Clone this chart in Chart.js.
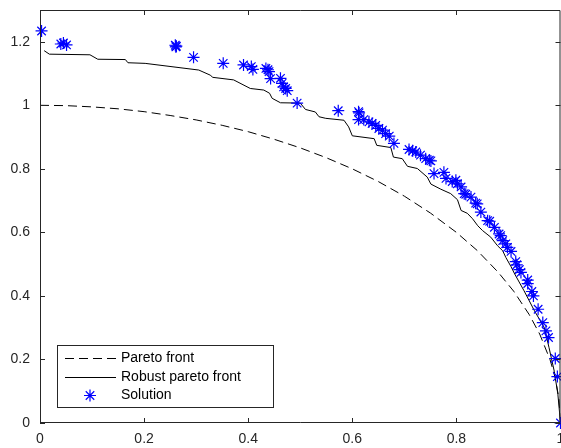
<!DOCTYPE html>
<html>
<head>
<meta charset="utf-8">
<script src="https://cdn.jsdelivr.net/npm/chart.js@4/dist/chart.umd.min.js"></script>
<style>
  body { margin: 0; background: #fff; }
  #wrap { width: 561px; height: 448px; }
</style>
</head>
<body>
<div id="wrap"><canvas id="chart" width="561" height="448"></canvas></div>
<script>
// Pareto front (dashed)
const paretoX = [0, 0.05, 0.1, 0.15, 0.2, 0.25, 0.3, 0.35, 0.4, 0.45, 0.5, 0.55, 0.6, 0.65, 0.7, 0.75, 0.8, 0.84, 0.88, 0.91, 0.94, 0.96, 0.98, 0.99, 0.997, 1];
const paretoY = [1, 0.999, 0.995, 0.989, 0.98, 0.968, 0.954, 0.937, 0.917, 0.893, 0.866, 0.835, 0.8, 0.76, 0.714, 0.661, 0.6, 0.543, 0.475, 0.415, 0.341, 0.28, 0.199, 0.141, 0.077, 0];

// Robust pareto front (solid, stepped)
const robustX = [0.008, 0.018, 0.096, 0.111, 0.164, 0.169, 0.202, 0.305, 0.327, 0.332, 0.372, 0.404, 0.43, 0.441, 0.446, 0.462, 0.5, 0.51, 0.529, 0.536, 0.549, 0.584, 0.593, 0.6, 0.642, 0.647, 0.674, 0.679, 0.696, 0.706, 0.725, 0.744, 0.751, 0.77, 0.789, 0.802, 0.809, 0.821, 0.831, 0.841, 0.85, 0.866, 0.879, 0.889, 0.895, 0.905, 0.912, 0.93, 0.95, 0.969, 0.978, 0.988, 0.995, 1];
const robustY = [1.172, 1.161, 1.159, 1.145, 1.144, 1.134, 1.132, 1.111, 1.095, 1.088, 1.08, 1.053, 1.048, 1.038, 1.022, 1.008, 1.007, 0.987, 0.979, 0.964, 0.959, 0.953, 0.932, 0.904, 0.895, 0.874, 0.867, 0.837, 0.832, 0.808, 0.801, 0.774, 0.752, 0.736, 0.722, 0.703, 0.669, 0.66, 0.643, 0.621, 0.606, 0.585, 0.558, 0.542, 0.521, 0.492, 0.469, 0.416, 0.353, 0.3, 0.237, 0.163, 0.09, 0];

// Solution points (asterisks)
const solX = [0.003, 0.04, 0.045, 0.051, 0.26, 0.262, 0.261, 0.295, 0.352, 0.391, 0.406, 0.409, 0.434, 0.438, 0.44, 0.443, 0.462, 0.465, 0.468, 0.472, 0.475, 0.494, 0.573, 0.612, 0.613, 0.612, 0.622, 0.632, 0.638, 0.645, 0.651, 0.658, 0.664, 0.671, 0.68, 0.709, 0.716, 0.722, 0.731, 0.741, 0.748, 0.751, 0.757, 0.776, 0.78, 0.792, 0.799, 0.802, 0.809, 0.815, 0.818, 0.828, 0.837, 0.84, 0.847, 0.86, 0.864, 0.873, 0.882, 0.885, 0.889, 0.895, 0.898, 0.905, 0.914, 0.916, 0.921, 0.924, 0.937, 0.937, 0.945, 0.948, 0.957, 0.966, 0.972, 0.977, 0.99, 0.994, 1];
const solY = [1.234, 1.193, 1.196, 1.19, 1.189, 1.186, 1.184, 1.151, 1.132, 1.127, 1.122, 1.113, 1.116, 1.112, 1.106, 1.084, 1.085, 1.069, 1.058, 1.053, 1.046, 1.007, 0.983, 0.98, 0.976, 0.955, 0.955, 0.948, 0.943, 0.937, 0.927, 0.922, 0.911, 0.903, 0.88, 0.861, 0.857, 0.853, 0.843, 0.832, 0.827, 0.825, 0.785, 0.789, 0.77, 0.76, 0.764, 0.753, 0.743, 0.722, 0.72, 0.711, 0.692, 0.69, 0.664, 0.637, 0.635, 0.616, 0.595, 0.59, 0.574, 0.564, 0.553, 0.54, 0.508, 0.498, 0.483, 0.474, 0.45, 0.439, 0.414, 0.4, 0.358, 0.316, 0.29, 0.269, 0.203, 0.146, 0];

const xTicks = [0, 0.2, 0.4, 0.6, 0.8, 1];
const yTicks = [0, 0.2, 0.4, 0.6, 0.8, 1, 1.2];

const axisColor = '#262626';
const font = { family: 'Liberation Sans, Arial, sans-serif', size: 14 };

function toPoints(xs, ys) {
  return xs.map((x, i) => ({ x: x, y: ys[i] }));
}

// asterisk like MATLAB's '*'
function drawStar(ctx, cx, cy, r) {
  const q = r * Math.SQRT1_2;
  ctx.moveTo(cx - r, cy); ctx.lineTo(cx + r, cy);
  ctx.moveTo(cx, cy - r); ctx.lineTo(cx, cy + r);
  ctx.moveTo(cx - q, cy - q); ctx.lineTo(cx + q, cy + q);
  ctx.moveTo(cx - q, cy + q); ctx.lineTo(cx + q, cy - q);
}

// Frame with inward ticks on all four sides (box on)
const framePlugin = {
  id: 'frame',
  afterDatasetsDraw(chart) {
    const ctx = chart.ctx;
    const a = chart.chartArea;
    const xs = chart.scales.x;
    const ys = chart.scales.y;
    const tl = 5;
    ctx.save();
    ctx.strokeStyle = axisColor;
    ctx.lineWidth = 1;
    ctx.beginPath();
    ctx.rect(a.left + 0.5, a.top + 0.5, a.right - a.left - 1, a.bottom - a.top - 1);
    xTicks.forEach(v => {
      const px = Math.round(xs.getPixelForValue(v)) + 0.5;
      ctx.moveTo(px, a.bottom); ctx.lineTo(px, a.bottom - tl);
      ctx.moveTo(px, a.top); ctx.lineTo(px, a.top + tl);
    });
    yTicks.forEach(v => {
      const py = Math.round(ys.getPixelForValue(v)) + 0.5;
      ctx.moveTo(a.left, py); ctx.lineTo(a.left + tl, py);
      ctx.moveTo(a.right, py); ctx.lineTo(a.right - tl, py);
    });
    ctx.stroke();
    ctx.restore();
  },
  // Legend box in the lower left
  afterDraw(chart) {
    const ctx = chart.ctx;
    const box = { x: 57.5, y: 345.5, w: 216, h: 62 };
    ctx.save();
    ctx.fillStyle = '#fff';
    ctx.fillRect(box.x, box.y, box.w, box.h);
    ctx.strokeStyle = axisColor;
    ctx.lineWidth = 1;
    ctx.strokeRect(box.x, box.y, box.w, box.h);

    const rows = [358, 377, 395];
    ctx.font = font.size + 'px ' + font.family;
    ctx.textBaseline = 'middle';
    chart.data.datasets.forEach((d, i) => {
      const y = rows[i] + 0.5;
      ctx.strokeStyle = d.borderColor;
      ctx.lineWidth = d.showLine === false ? d.pointBorderWidth : 1;
      ctx.beginPath();
      if (d.showLine === false) {
        drawStar(ctx, 90, y, d.pointRadius);
      } else {
        ctx.setLineDash(d.borderDash || []);
        ctx.moveTo(65, y); ctx.lineTo(116, y);
      }
      ctx.stroke();
      ctx.setLineDash([]);
      ctx.fillStyle = '#000';
      ctx.fillText(d.label, 121, rows[i]);
    });
    ctx.restore();
  }
};

new Chart(document.getElementById('chart').getContext('2d'), {
  type: 'scatter',
  data: {
    datasets: [
      {
        label: 'Pareto front',
        data: toPoints(paretoX, paretoY),
        showLine: true,
        borderColor: '#000',
        borderWidth: 1,
        borderDash: [9, 5],
        pointRadius: 0,
        order: 2
      },
      {
        label: 'Robust pareto front',
        data: toPoints(robustX, robustY),
        showLine: true,
        borderColor: '#000',
        borderWidth: 1,
        pointRadius: 0,
        order: 1
      },
      {
        label: 'Solution',
        data: toPoints(solX, solY),
        showLine: false,
        clip: false,
        borderColor: '#0000ff',
        backgroundColor: '#0000ff',
        pointStyle: 'star',
        pointRadius: 6,
        pointBorderWidth: 1.2,
        order: 0
      }
    ]
  },
  options: {
    responsive: false,
    animation: false,
    layout: { autoPadding: false, padding: { top: 10, right: 0.5, left: 0, bottom: 0 } },
    plugins: {
      legend: { display: false },
      tooltip: { enabled: false }
    },
    scales: {
      x: {
        type: 'linear',
        min: 0,
        max: 1,
        grid: { display: false, drawTicks: false },
        border: { display: false },
        afterBuildTicks: s => { s.ticks = xTicks.map(v => ({ value: v })); },
        afterFit: s => { s.height = 25; s.paddingLeft = 0; s.paddingRight = 0; },
        ticks: {
          color: axisColor,
          font: font,
          padding: 8,
          maxRotation: 0,
          callback: v => String(+v.toFixed(1))
        }
      },
      y: {
        type: 'linear',
        min: 0,
        max: 1.3,
        grid: { display: false, drawTicks: false },
        border: { display: false },
        afterBuildTicks: s => { s.ticks = yTicks.map(v => ({ value: v })); },
        afterFit: s => { s.width = 40; s.paddingTop = 0; s.paddingBottom = 0; },
        ticks: {
          color: axisColor,
          font: font,
          padding: 10,
          callback: v => String(+v.toFixed(1))
        }
      }
    }
  },
  plugins: [framePlugin]
});
</script>
</body>
</html>
